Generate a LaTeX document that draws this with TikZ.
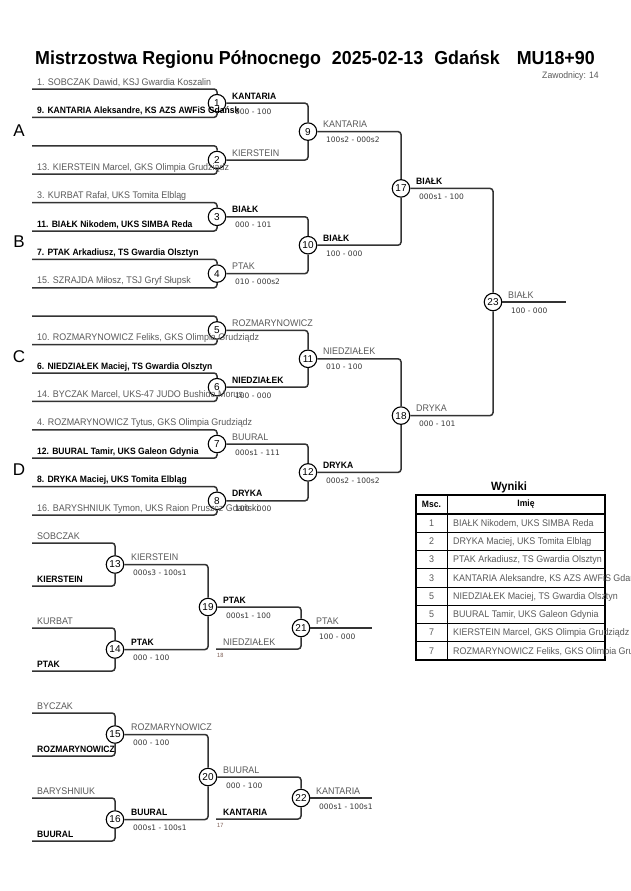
\documentclass[tikz,border=0pt]{standalone}
\usepackage{fontspec}
\setmainfont[FakeStretch=0.93]{Liberation Sans}
\newfontfamily\titlef[FakeStretch=0.95]{Liberation Sans}
\newfontfamily\plainf{Liberation Sans}
\newfontfamily\scfont{DejaVu Sans}
\usetikzlibrary{calc}
\definecolor{linec}{HTML}{333333}
\definecolor{txtg}{HTML}{5A5A5A}
\definecolor{scc}{HTML}{3A3A3A}
\definecolor{refc}{HTML}{7A5A50}
\begin{document}
\begin{tikzpicture}[x=1pt,y=-1pt,
 br/.style={draw=linec,line width=1.5pt,rounded corners=3pt},
 mc/.style={circle,draw=black,line width=1.1pt,fill=white,minimum size=17.5pt,inner sep=0pt,font=\plainf\fontsize{10}{10}\selectfont},
 nl/.style={anchor=base west,inner sep=0pt,text=txtg,font=\fontsize{9.6}{11}\selectfont},
 nw/.style={anchor=base west,inner sep=0pt,text=black,font=\bfseries\fontsize{9.2}{11}\selectfont},
 sc/.style={anchor=base west,inner sep=0pt,text=scc,font=\scfont\fontsize{7.5}{9}\selectfont},
 grp/.style={font=\plainf\fontsize{17}{17}\selectfont,inner sep=0pt},
 tinyref/.style={anchor=base west,inner sep=0pt,text=refc,font=\fontsize{6}{7}\selectfont},
 cellnum/.style={anchor=base,inner sep=0pt,text=txtg,font=\fontsize{9.6}{11}\selectfont},
 cellname/.style={anchor=base west,inner sep=0pt,text=txtg,font=\fontsize{9.6}{11}\selectfont},
 hdr/.style={inner sep=0pt,font=\bfseries\fontsize{9.2}{11}\selectfont}]
\useasboundingbox (0,0) rectangle (630,891);
\fill[white] (0,0) rectangle (630,891);

% title
\node[anchor=base west,inner sep=0pt,font=\titlef\bfseries\fontsize{18.8}{21}\selectfont] (title) at (35,65) {Mistrzostwa Regionu Północnego\hspace{11pt}2025-02-13\hspace{11pt}Gdańsk\hspace{17pt}MU18+90};
\node[anchor=base east,inner sep=0pt,text=txtg,font=\fontsize{9.3}{10}\selectfont] (cnt) at (599,78) {Zawodnicy: 14};

% group letters
\node[grp] (gA) at (19,131) {A};
\node[grp] (gB) at (19,242) {B};
\node[grp] (gC) at (19,357) {C};
\node[grp] (gD) at (19,470) {D};

% player line starts
\foreach \i in {0,...,15} \coordinate (p\i) at (32,{89+28.4*\i});

% match circles, main bracket
\node[mc] (m1) at (217,103.2) {1};
\node[mc] (m2) at (217,160) {2};
\node[mc] (m3) at (217,216.8) {3};
\node[mc] (m4) at (217,273.6) {4};
\node[mc] (m5) at (217,330.4) {5};
\node[mc] (m6) at (217,387.2) {6};
\node[mc] (m7) at (217,444) {7};
\node[mc] (m8) at (217,500.8) {8};
\node[mc] (m9) at (308,131.6) {9};
\node[mc] (m10) at (308,245.2) {10};
\node[mc] (m11) at (308,358.8) {11};
\node[mc] (m12) at (308,472.4) {12};
\node[mc] (m17) at (401,188.4) {17};
\node[mc] (m18) at (401,415.6) {18};
\node[mc] (m23) at (493,302) {23};
\coordinate (f23) at (566,302);

% repechage
\coordinate (q0) at (32,543);
\coordinate (q1) at (32,586);
\coordinate (q2) at (32,628);
\coordinate (q3) at (32,671);
\coordinate (q4) at (32,713);
\coordinate (q5) at (32,756);
\coordinate (q6) at (32,798);
\coordinate (q7) at (32,841);
\node[mc] (m13) at (115,564.5) {13};
\node[mc] (m14) at (115,649.5) {14};
\node[mc] (m15) at (115,734.5) {15};
\node[mc] (m16) at (115,819.5) {16};
\node[mc] (m19) at (208,607) {19};
\node[mc] (m20) at (208,777) {20};
\node[mc] (m21) at (301,628) {21};
\node[mc] (m22) at (301,798) {22};
\coordinate (n18) at (216,649);
\coordinate (n17) at (216,819);
\coordinate (f21) at (372,628);
\coordinate (f22) at (372,798);

% connectors first round
\foreach \a/\b/\m in {0/1/1,2/3/2,4/5/3,6/7/4,8/9/5,10/11/6,12/13/7,14/15/8}{
  \draw[br] (p\a) -| (m\m);
  \draw[br] (p\b) -| (m\m);
}
\draw[br] (m1) -| (m9);  \draw[br] (m2) -| (m9);
\draw[br] (m3) -| (m10); \draw[br] (m4) -| (m10);
\draw[br] (m5) -| (m11); \draw[br] (m6) -| (m11);
\draw[br] (m7) -| (m12); \draw[br] (m8) -| (m12);
\draw[br] (m9) -| (m17); \draw[br] (m10) -| (m17);
\draw[br] (m11) -| (m18); \draw[br] (m12) -| (m18);
\draw[br] (m17) -| (m23); \draw[br] (m18) -| (m23);
\draw[br] (m23) -- (f23);

% repechage connectors
\draw[br] (q0) -| (m13); \draw[br] (q1) -| (m13);
\draw[br] (q2) -| (m14); \draw[br] (q3) -| (m14);
\draw[br] (q4) -| (m15); \draw[br] (q5) -| (m15);
\draw[br] (q6) -| (m16); \draw[br] (q7) -| (m16);
\draw[br] (m13) -| (m19); \draw[br] (m14) -| (m19);
\draw[br] (m15) -| (m20); \draw[br] (m16) -| (m20);
\draw[br] (m19) -| (m21); \draw[br] (n18) -| (m21);
\draw[br] (m20) -| (m22); \draw[br] (n17) -| (m22);
\draw[br] (m21) -- (f21);
\draw[br] (m22) -- (f22);

% player names
\node[nl] (t0) at ($(p0)+(5,-4)$) {1. SOBCZAK Dawid, KSJ Gwardia Koszalin};
\node[nw] (t1) at ($(p1)+(5,-4)$) {9. KANTARIA Aleksandre, KS AZS AWFiS Gdańsk};
\node[nl] (t3) at ($(p3)+(5,-4)$) {13. KIERSTEIN Marcel, GKS Olimpia Grudziądz};
\node[nl] (t4) at ($(p4)+(5,-4)$) {3. KURBAT Rafał, UKS Tomita Elbląg};
\node[nw] (t5) at ($(p5)+(5,-4)$) {11. BIAŁK Nikodem, UKS SIMBA Reda};
\node[nw] (t6) at ($(p6)+(5,-4)$) {7. PTAK Arkadiusz, TS Gwardia Olsztyn};
\node[nl] (t7) at ($(p7)+(5,-4)$) {15. SZRAJDA Miłosz, TSJ Gryf Słupsk};
\node[nl] (t9) at ($(p9)+(5,-4)$) {10. ROZMARYNOWICZ Feliks, GKS Olimpia Grudziądz};
\node[nw] (t10) at ($(p10)+(5,-4)$) {6. NIEDZIAŁEK Maciej, TS Gwardia Olsztyn};
\node[nl] (t11) at ($(p11)+(5,-4)$) {14. BYCZAK Marcel, UKS-47 JUDO Bushido Morus};
\node[nl] (t12) at ($(p12)+(5,-4)$) {4. ROZMARYNOWICZ Tytus, GKS Olimpia Grudziądz};
\node[nw] (t13) at ($(p13)+(5,-4)$) {12. BUURAL Tamir, UKS Galeon Gdynia};
\node[nw] (t14) at ($(p14)+(5,-4)$) {8. DRYKA Maciej, UKS Tomita Elbląg};
\node[nl] (t15) at ($(p15)+(5,-4)$) {16. BARYSHNIUK Tymon, UKS Raion Pruszcz Gdański};

% winner labels and scores
\node[nw] (w1) at ($(m1)+(15,-4)$) {KANTARIA};
\node[sc] (s1) at ($(m1)+(18,11)$) {000 - 100};
\node[nl] (w2) at ($(m2)+(15,-4)$) {KIERSTEIN};
\node[nw] (w3) at ($(m3)+(15,-4)$) {BIAŁK};
\node[sc] (s3) at ($(m3)+(18,11)$) {000 - 101};
\node[nl] (w4) at ($(m4)+(15,-4)$) {PTAK};
\node[sc] (s4) at ($(m4)+(18,11)$) {010 - 000s2};
\node[nl] (w5) at ($(m5)+(15,-4)$) {ROZMARYNOWICZ};
\node[nw] (w6) at ($(m6)+(15,-4)$) {NIEDZIAŁEK};
\node[sc] (s6) at ($(m6)+(18,11)$) {100 - 000};
\node[nl] (w7) at ($(m7)+(15,-4)$) {BUURAL};
\node[sc] (s7) at ($(m7)+(18,11)$) {000s1 - 111};
\node[nw] (w8) at ($(m8)+(15,-4)$) {DRYKA};
\node[sc] (s8) at ($(m8)+(18,11)$) {100 - 000};
\node[nl] (w9) at ($(m9)+(15,-4)$) {KANTARIA};
\node[sc] (s9) at ($(m9)+(18,11)$) {100s2 - 000s2};
\node[nw] (w10) at ($(m10)+(15,-4)$) {BIAŁK};
\node[sc] (s10) at ($(m10)+(18,11)$) {100 - 000};
\node[nl] (w11) at ($(m11)+(15,-4)$) {NIEDZIAŁEK};
\node[sc] (s11) at ($(m11)+(18,11)$) {010 - 100};
\node[nw] (w12) at ($(m12)+(15,-4)$) {DRYKA};
\node[sc] (s12) at ($(m12)+(18,11)$) {000s2 - 100s2};
\node[nw] (w17) at ($(m17)+(15,-4)$) {BIAŁK};
\node[sc] (s17) at ($(m17)+(18,11)$) {000s1 - 100};
\node[nl] (w18) at ($(m18)+(15,-4)$) {DRYKA};
\node[sc] (s18) at ($(m18)+(18,11)$) {000 - 101};
\node[nl] (w23) at ($(m23)+(15,-4)$) {BIAŁK};
\node[sc] (s23) at ($(m23)+(18,11)$) {100 - 000};

% repechage names
\node[nl] (r0) at ($(q0)+(5,-4)$) {SOBCZAK};
\node[nw] (r1) at ($(q1)+(5,-4)$) {KIERSTEIN};
\node[nl] (r2) at ($(q2)+(5,-4)$) {KURBAT};
\node[nw] (r3) at ($(q3)+(5,-4)$) {PTAK};
\node[nl] (r4) at ($(q4)+(5,-4)$) {BYCZAK};
\node[nw] (r5) at ($(q5)+(5,-4)$) {ROZMARYNOWICZ};
\node[nl] (r6) at ($(q6)+(5,-4)$) {BARYSHNIUK};
\node[nw] (r7) at ($(q7)+(5,-4)$) {BUURAL};

\node[nl] (w13) at ($(m13)+(16,-4)$) {KIERSTEIN};
\node[sc] (s13) at ($(m13)+(18,11)$) {000s3 - 100s1};
\node[nw] (w14) at ($(m14)+(16,-4)$) {PTAK};
\node[sc] (s14) at ($(m14)+(18,11)$) {000 - 100};
\node[nw] (w19) at ($(m19)+(15,-4)$) {PTAK};
\node[sc] (s19) at ($(m19)+(18,11)$) {000s1 - 100};
\node[nl] (w18b) at ($(n18)+(7,-4)$) {NIEDZIAŁEK};
\node[tinyref] (x18) at ($(n18)+(1,8)$) {18};
\node[nl] (w21) at ($(m21)+(15,-4)$) {PTAK};
\node[sc] (s21) at ($(m21)+(18,11)$) {100 - 000};

\node[nl] (w15) at ($(m15)+(16,-4)$) {ROZMARYNOWICZ};
\node[sc] (s15) at ($(m15)+(18,11)$) {000 - 100};
\node[nw] (w16) at ($(m16)+(16,-4)$) {BUURAL};
\node[sc] (s16) at ($(m16)+(18,11)$) {000s1 - 100s1};
\node[nl] (w20) at ($(m20)+(15,-4)$) {BUURAL};
\node[sc] (s20) at ($(m20)+(18,11)$) {000 - 100};
\node[nw] (w17b) at ($(n17)+(7,-4)$) {KANTARIA};
\node[tinyref] (x17) at ($(n17)+(1,8)$) {17};
\node[nl] (w22) at ($(m22)+(15,-4)$) {KANTARIA};
\node[sc] (s22) at ($(m22)+(18,11)$) {000s1 - 100s1};

% results table
\node[inner sep=0pt,font=\bfseries\fontsize{12}{13}\selectfont] (wyn) at (509,487) {Wyniki};
\draw[line width=0.8pt] (447,495) -- (447,660);
\foreach \k in {1,...,7} \draw[line width=0.8pt] (416,{514+18.25*\k}) -- (605,{514+18.25*\k});
\draw[line width=1.2pt] (416,514) -- (605,514);
\draw[line width=1.8pt] (416,495) rectangle (605,660);
\node[hdr] (h1) at (431.5,504.5) {Msc.};
\node[hdr] (h2) at (526,504.5) {Imię};
\node[cellnum] (c1) at (431.5,526.3) {1};
\node[cellname] (d1) at (453,526.3) {BIAŁK Nikodem, UKS SIMBA Reda};
\node[cellnum] (c2) at (431.5,544.55) {2};
\node[cellname] (d2) at (453,544.55) {DRYKA Maciej, UKS Tomita Elbląg};
\node[cellnum] (c3) at (431.5,562.8) {3};
\node[cellname] (d3) at (453,562.8) {PTAK Arkadiusz, TS Gwardia Olsztyn};
\node[cellnum] (c4) at (431.5,581.05) {3};
\node[cellname] (d4) at (453,581.05) {KANTARIA Aleksandre, KS AZS AWFiS Gdańsk};
\node[cellnum] (c5) at (431.5,599.3) {5};
\node[cellname] (d5) at (453,599.3) {NIEDZIAŁEK Maciej, TS Gwardia Olsztyn};
\node[cellnum] (c6) at (431.5,617.55) {5};
\node[cellname] (d6) at (453,617.55) {BUURAL Tamir, UKS Galeon Gdynia};
\node[cellnum] (c7) at (431.5,635.8) {7};
\node[cellname] (d7) at (453,635.8) {KIERSTEIN Marcel, GKS Olimpia Grudziądz};
\node[cellnum] (c8) at (431.5,654.05) {7};
\node[cellname] (d8) at (453,654.05) {ROZMARYNOWICZ Feliks, GKS Olimpia Grudziądz};
\end{tikzpicture}
\end{document}
